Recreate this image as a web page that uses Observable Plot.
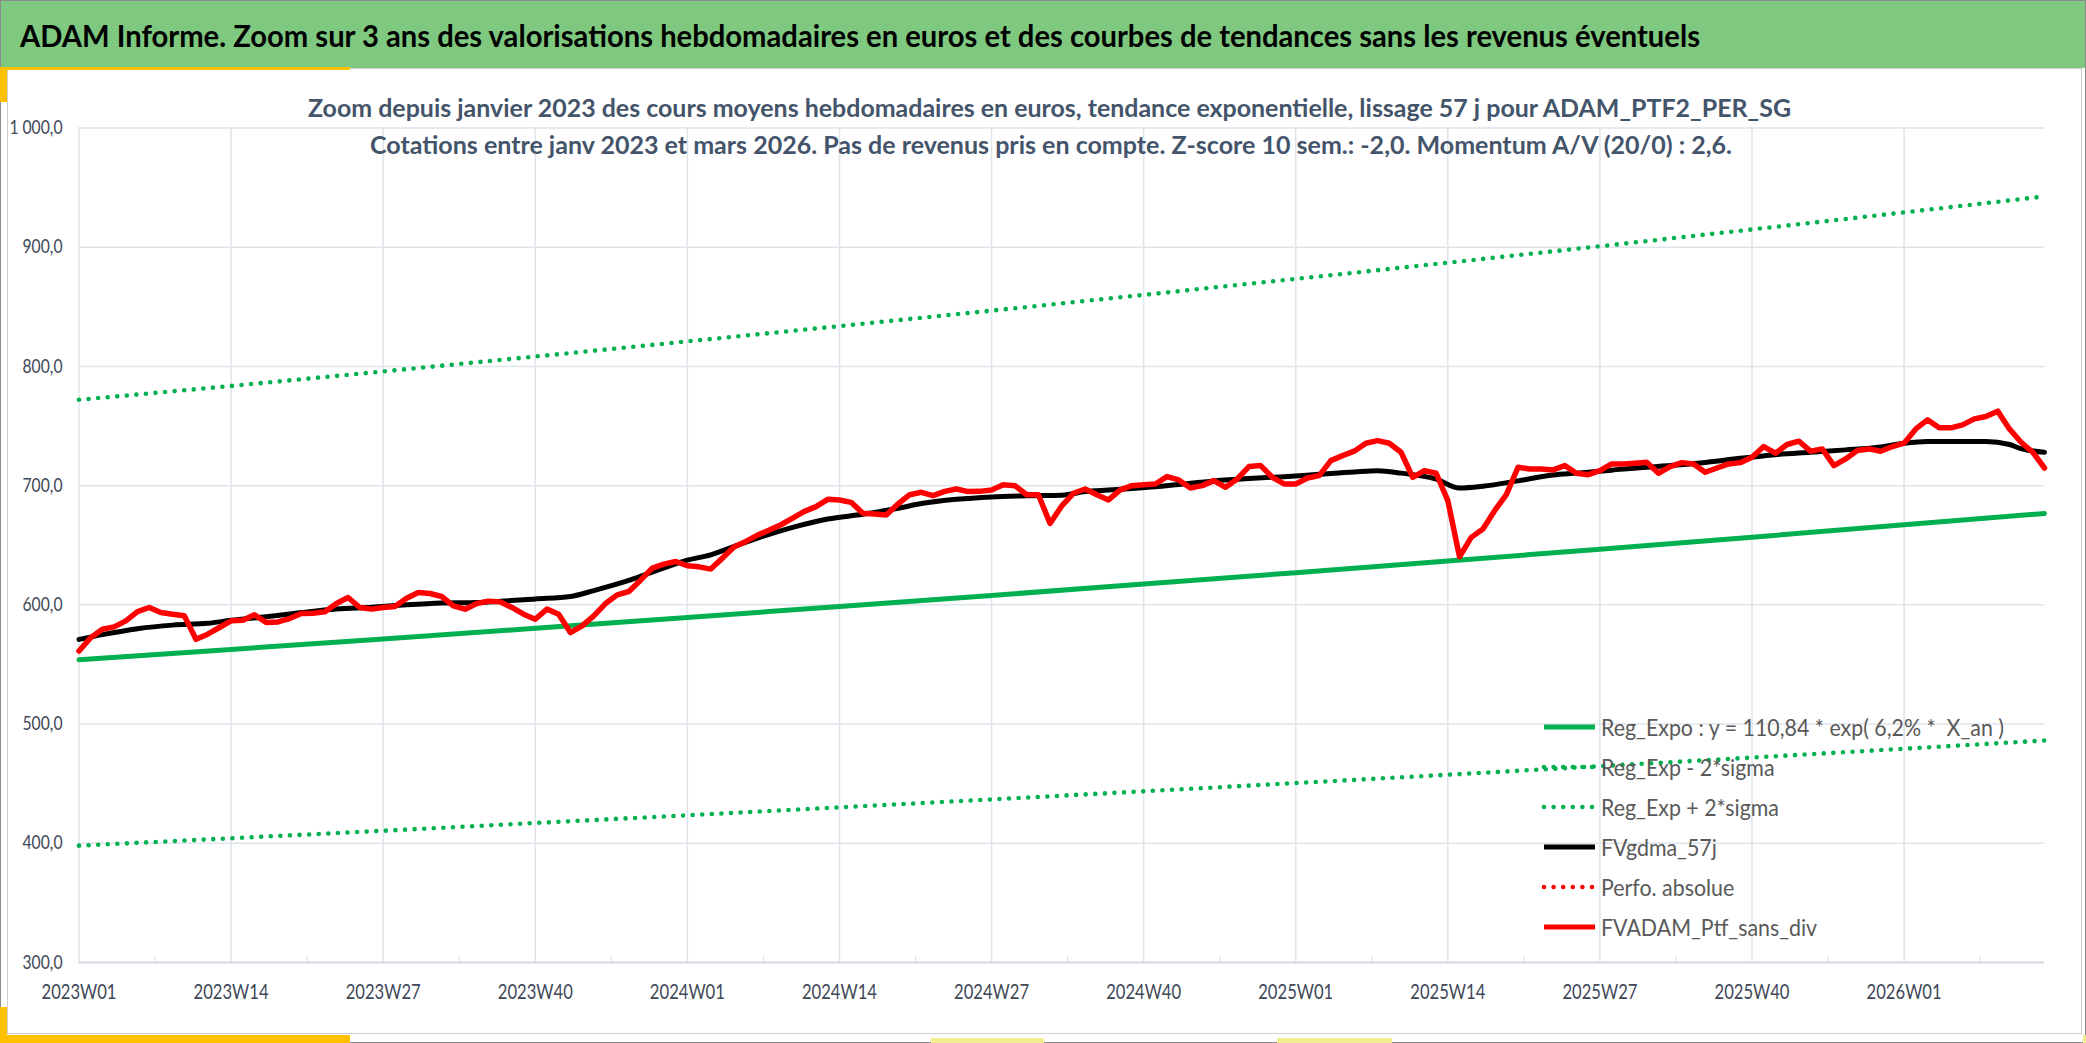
<!DOCTYPE html>
<html><head><meta charset="utf-8">
<script src="https://cdn.jsdelivr.net/npm/d3@7"></script>
<script src="https://cdn.jsdelivr.net/npm/@observablehq/plot@0.6"></script>
<style>
html,body{margin:0;padding:0;background:#fff;}
#root{position:relative;width:2086px;height:1043px;overflow:hidden;background:#fff;font-family:Lato,"Open Sans",sans-serif;}
.abs{position:absolute;}
</style></head><body><div id="root"></div>
<script>
// ---------- data ----------
const titleText = "ADAM Informe. Zoom sur 3 ans des valorisations hebdomadaires en euros et des courbes de tendances sans les revenus éventuels";
const subtitle1 = "Zoom depuis janvier 2023 des cours moyens hebdomadaires en euros, tendance exponentielle, lissage 57 j pour ADAM_PTF2_PER_SG";
const subtitle2 = "Cotations entre janv 2023 et mars 2026. Pas de revenus pris en compte. Z-score 10 sem.: -2,0. Momentum A/V (20/0) : 2,6.";

const weekTicks = [0,13,26,39,52,65,78,91,104,117,130,143,156];
const weekTickLabels = ["2023W01","2023W14","2023W27","2023W40","2024W01","2024W14","2024W27","2024W40","2025W01","2025W14","2025W27","2025W40","2026W01"];
const minorTicks = [6.5,19.5,32.5,45.5,58.5,71.5,84.5,97.5,110.5,123.5,136.5,149.5,162.5];
const yTicks = [300,400,500,600,700,800,900,1000];
const yTickLabels = ["300,0","400,0","500,0","600,0","700,0","800,0","900,0","1 000,0"];

// FVADAM_Ptf_sans_div, weekly from 2023W01 (index = week number since start)
const ptfValues = [
561.3,572.5,579.6,581.5,586.6,594.4,597.8,593.6,592.2,590.8,
571.1,575.4,581.0,586.6,587.1,591.6,585.2,585.7,588.5,592.7,
593.0,594.1,601.1,606.2,597.8,596.4,597.8,598.6,605.6,610.4,
609.5,607.0,599.2,596.4,601.1,603.1,602.5,597.8,592.2,588.0,
596.4,592.2,576.8,582.4,590.8,601.1,608.4,611.2,620.7,630.8,
634.2,636.4,632.8,631.9,630.0,639.2,648.7,653.2,658.5,662.7,
667.2,672.8,678.4,682.4,688.5,688.0,686.0,676.8,676.2,675.4,
684.6,692.4,694.4,691.6,695.2,697.2,695.0,695.2,696.4,700.8,
700.0,692.4,692.4,668.3,683.0,693.6,697.2,692.4,688.0,696.4,
700.0,700.8,701.4,707.6,704.8,698.0,700.0,704.2,698.6,705.6,
716.0,716.8,707.0,701.4,701.4,706.4,708.4,721.0,725.2,728.9,
735.6,737.8,735.6,728.0,707.0,712.6,710.4,687.4,640.3,656.6,
663.6,679.0,692.4,715.4,714.0,714.0,713.2,716.8,710.4,709.2,
712.6,718.2,718.2,718.8,719.6,710.4,716.0,719.3,718.2,711.2,
714.8,718.2,719.3,723.8,732.8,727.2,734.5,737.3,728.9,730.8,
716.8,722.4,729.4,730.8,728.9,732.8,735.6,747.6,755.2,748.5,
748.5,751.0,756.0,758.0,762.5,747.6,736.4,728.0,714.8];

// FVgdma_57j, read at these weeks
const gdmaWeeks = [0,2,5,8,11,13,16,19,22,25,28,31,34,36,39,42,44,47,50,52,54,56,58,61,64,67,70,72,75,78,81,84,86,89,92,94,97,100,103,106,109,111,113,116,118,120,123,126,128,131,134,136,139,142,145,148,151,154,156,158,161,163,165,166,168];
const gdmaValues = [571,575,580,583,584.5,587,590,593.5,596.5,598,600,601.5,602,603,605,607,612,620.5,631,637.5,642,649,656,665,672,676,681,685,688.5,690.5,691.5,692,695,697,699,701,704,706,707.5,709.5,711.5,712.5,710.5,705.5,698,699.5,704,709,710.5,713,715.5,716.8,719.5,723,726,728,730,732.5,735.5,737,737,737,734.5,731,728];

// Trend curves read at these weeks
const trendWeeks = [0,13,26,39,52,65,78,91,104,117,130,143,156,168];
const regExpo = [554.0,562.6,571.4,580.3,589.4,598.6,607.9,617.4,627.0,636.8,646.7,656.8,667.1,676.7];
const regLow  = [398.0,404.2,410.5,417.0,423.5,430.1,436.8,443.6,450.5,457.5,464.7,471.9,479.3,486.2];
const regHigh = [772.0,783.6,795.8,808.3,821.0,833.8,846.8,860.0,873.4,887.0,900.8,914.9,929.2,942.6];

const legendLabels = ["Reg_Expo : y = 110,84 * exp( 6,2% *  X_an )","Reg_Exp - 2*sigma","Reg_Exp + 2*sigma","FVgdma_57j","Perfo. absolue","FVADAM_Ptf_sans_div"];
const legendColors = ["#00b050","#00b050","#00b050","#000000","#ff0000","#ff0000"];
const legendDotted = [false,true,true,false,true,false];

// ---------- layout ----------
const root = document.getElementById("root");
const GREEN = "#00b050", DOT = "0 9.6", gridColor = "#dfe3ea", axisText = "#404858";

function div(style){ const d=document.createElement("div"); d.className="abs"; Object.assign(d.style, style); root.appendChild(d); return d; }

// chart area
div({left:"7px", top:"68px", width:"2073px", height:"964px", border:"1px solid #cfcfcf", background:"#fff"});
// header
div({left:"0px", top:"0px", width:"2086px", height:"68px", background:"#7ec87f"});

const plot = Plot.plot({
  width: 2086, height: 1043,
  marginLeft: 78.5, marginRight: 42, marginTop: 127.5, marginBottom: 81,
  x: {domain: [0, 168], label: null},
  y: {domain: [300, 1000], label: null},
  style: {background: "transparent", fontFamily: "Lato, 'Open Sans', sans-serif", overflow: "visible"},
  marks: [
    Plot.gridY(yTicks, {stroke: gridColor, strokeOpacity: 1, strokeWidth: 1.5}),
    Plot.gridX(weekTicks, {stroke: gridColor, strokeOpacity: 1, strokeWidth: 1.5}),
    Plot.ruleY([yTicks[0]], {stroke: "#d6dae1", strokeWidth: 2}),
    Plot.axisX(minorTicks, {anchor: "bottom", tickSize: 6, dy: -6, tickFormat: () => "", stroke: "#d6dae1"}),
    Plot.axisX(weekTicks, {anchor: "bottom", tickSize: 0, tickPadding: 22, fontSize: 20.5, fill: axisText,
      tickFormat: d => weekTickLabels[weekTicks.indexOf(d)]}),
    Plot.axisY(yTicks, {anchor: "left", tickSize: 0, tickPadding: 16.5, fontSize: 19, fill: axisText,
      tickFormat: d => yTickLabels[yTicks.indexOf(d)]}),
    Plot.line(trendWeeks, {x: d => d, y: (d, i) => regExpo[i], stroke: GREEN, strokeWidth: 5}),
    Plot.line(trendWeeks, {x: d => d, y: (d, i) => regLow[i], stroke: GREEN, strokeWidth: 4.6, strokeDasharray: DOT, strokeLinecap: "round"}),
    Plot.line(trendWeeks, {x: d => d, y: (d, i) => regHigh[i], stroke: GREEN, strokeWidth: 4.6, strokeDasharray: DOT, strokeLinecap: "round"}),
    Plot.line(gdmaWeeks, {x: d => d, y: (d, i) => gdmaValues[i], stroke: "#000", strokeWidth: 5, curve: "monotone-x"}),
    Plot.lineY(ptfValues, {stroke: "#ff0000", strokeWidth: 5.5, strokeLinejoin: "round"})
  ]
});
plot.classList.add("abs");
plot.style.left = "0px"; plot.style.top = "0px";
root.appendChild(plot);

// compress tick labels horizontally (narrow Calibri-like look)
function compressGroup(nodes, refText, target){
  const arr = Array.from(nodes).filter(n => n.textContent.trim() !== "");
  const ref = arr.find(n => n.textContent === refText) || arr[0];
  if (!ref) return;
  const k = target / ref.getComputedTextLength();
  arr.forEach(n => { const L = n.getComputedTextLength(); n.setAttribute("textLength", L * k); n.setAttribute("lengthAdjust", "spacingAndGlyphs"); });
}
compressGroup(plot.querySelectorAll('g[aria-label="x-axis tick label"] text'), "2023W01", 75);
compressGroup(plot.querySelectorAll('g[aria-label="y-axis tick label"] text'), "900,0", 40);

// overlay: title, subtitles, legend
const ov = d3.select(root).append("svg").attr("class", "abs")
  .style("left", "0px").style("top", "0px").attr("width", 2086).attr("height", 1043)
  .style("font-family", "Lato, 'Open Sans', sans-serif");

function fitted(x, y, txt, size, weight, fill, width){
  const t = ov.append("text").attr("x", x).attr("y", y).attr("font-size", size).attr("font-weight", weight)
    .attr("fill", fill).style("white-space", "pre").text(txt);
  if (width) t.attr("textLength", width).attr("lengthAdjust", "spacingAndGlyphs");
  return t;
}
fitted(20, 46.5, titleText, 30.5, 700, "#000", 1680);
fitted(308, 117, subtitle1, 25, 700, "#44546a", 1483);
fitted(370, 153.5, subtitle2, 25, 700, "#44546a", 1362);

// legend
const legTexts = legendLabels.map((lab, i) => {
  const cy = 727 + 40 * i;
  ov.append("line").attr("x1", 1544).attr("x2", 1595).attr("y1", cy).attr("y2", cy)
    .attr("stroke", legendColors[i]).attr("stroke-width", legendDotted[i] ? 4.6 : 5)
    .attr("stroke-dasharray", legendDotted[i] ? DOT : null)
    .attr("stroke-linecap", legendDotted[i] ? "round" : "butt");
  return ov.append("text").attr("x", 1601).attr("y", cy + 8.5).attr("font-size", 23)
    .attr("fill", "#595959").style("white-space", "pre").text(lab);
});
const kLeg = 403 / legTexts[0].node().getComputedTextLength();
legTexts.forEach(t => { const L = t.node().getComputedTextLength(); t.attr("textLength", L * kLeg).attr("lengthAdjust", "spacingAndGlyphs"); });

// frame and decorative accents
div({left:"0px", top:"0px", width:"2084px", height:"1041px", border:"1px solid #8a8a8a", pointerEvents:"none"});
const Y = "#ffc000";
div({left:"0px", top:"67px", width:"350px", height:"3px", background:Y});
div({left:"0px", top:"67px", width:"7px", height:"35px", background:Y});
div({left:"0px", top:"1007px", width:"7px", height:"36px", background:Y});
div({left:"0px", top:"1035px", width:"350px", height:"8px", background:Y});
div({left:"931px", top:"1038px", width:"113px", height:"5px", background:"#f2ed8e"});
div({left:"1277px", top:"1038px", width:"115px", height:"5px", background:"#f2ed8e"});
div({left:"2083px", top:"1035px", width:"3px", height:"8px", background:"#f2ed8e"});
</script></body></html>
